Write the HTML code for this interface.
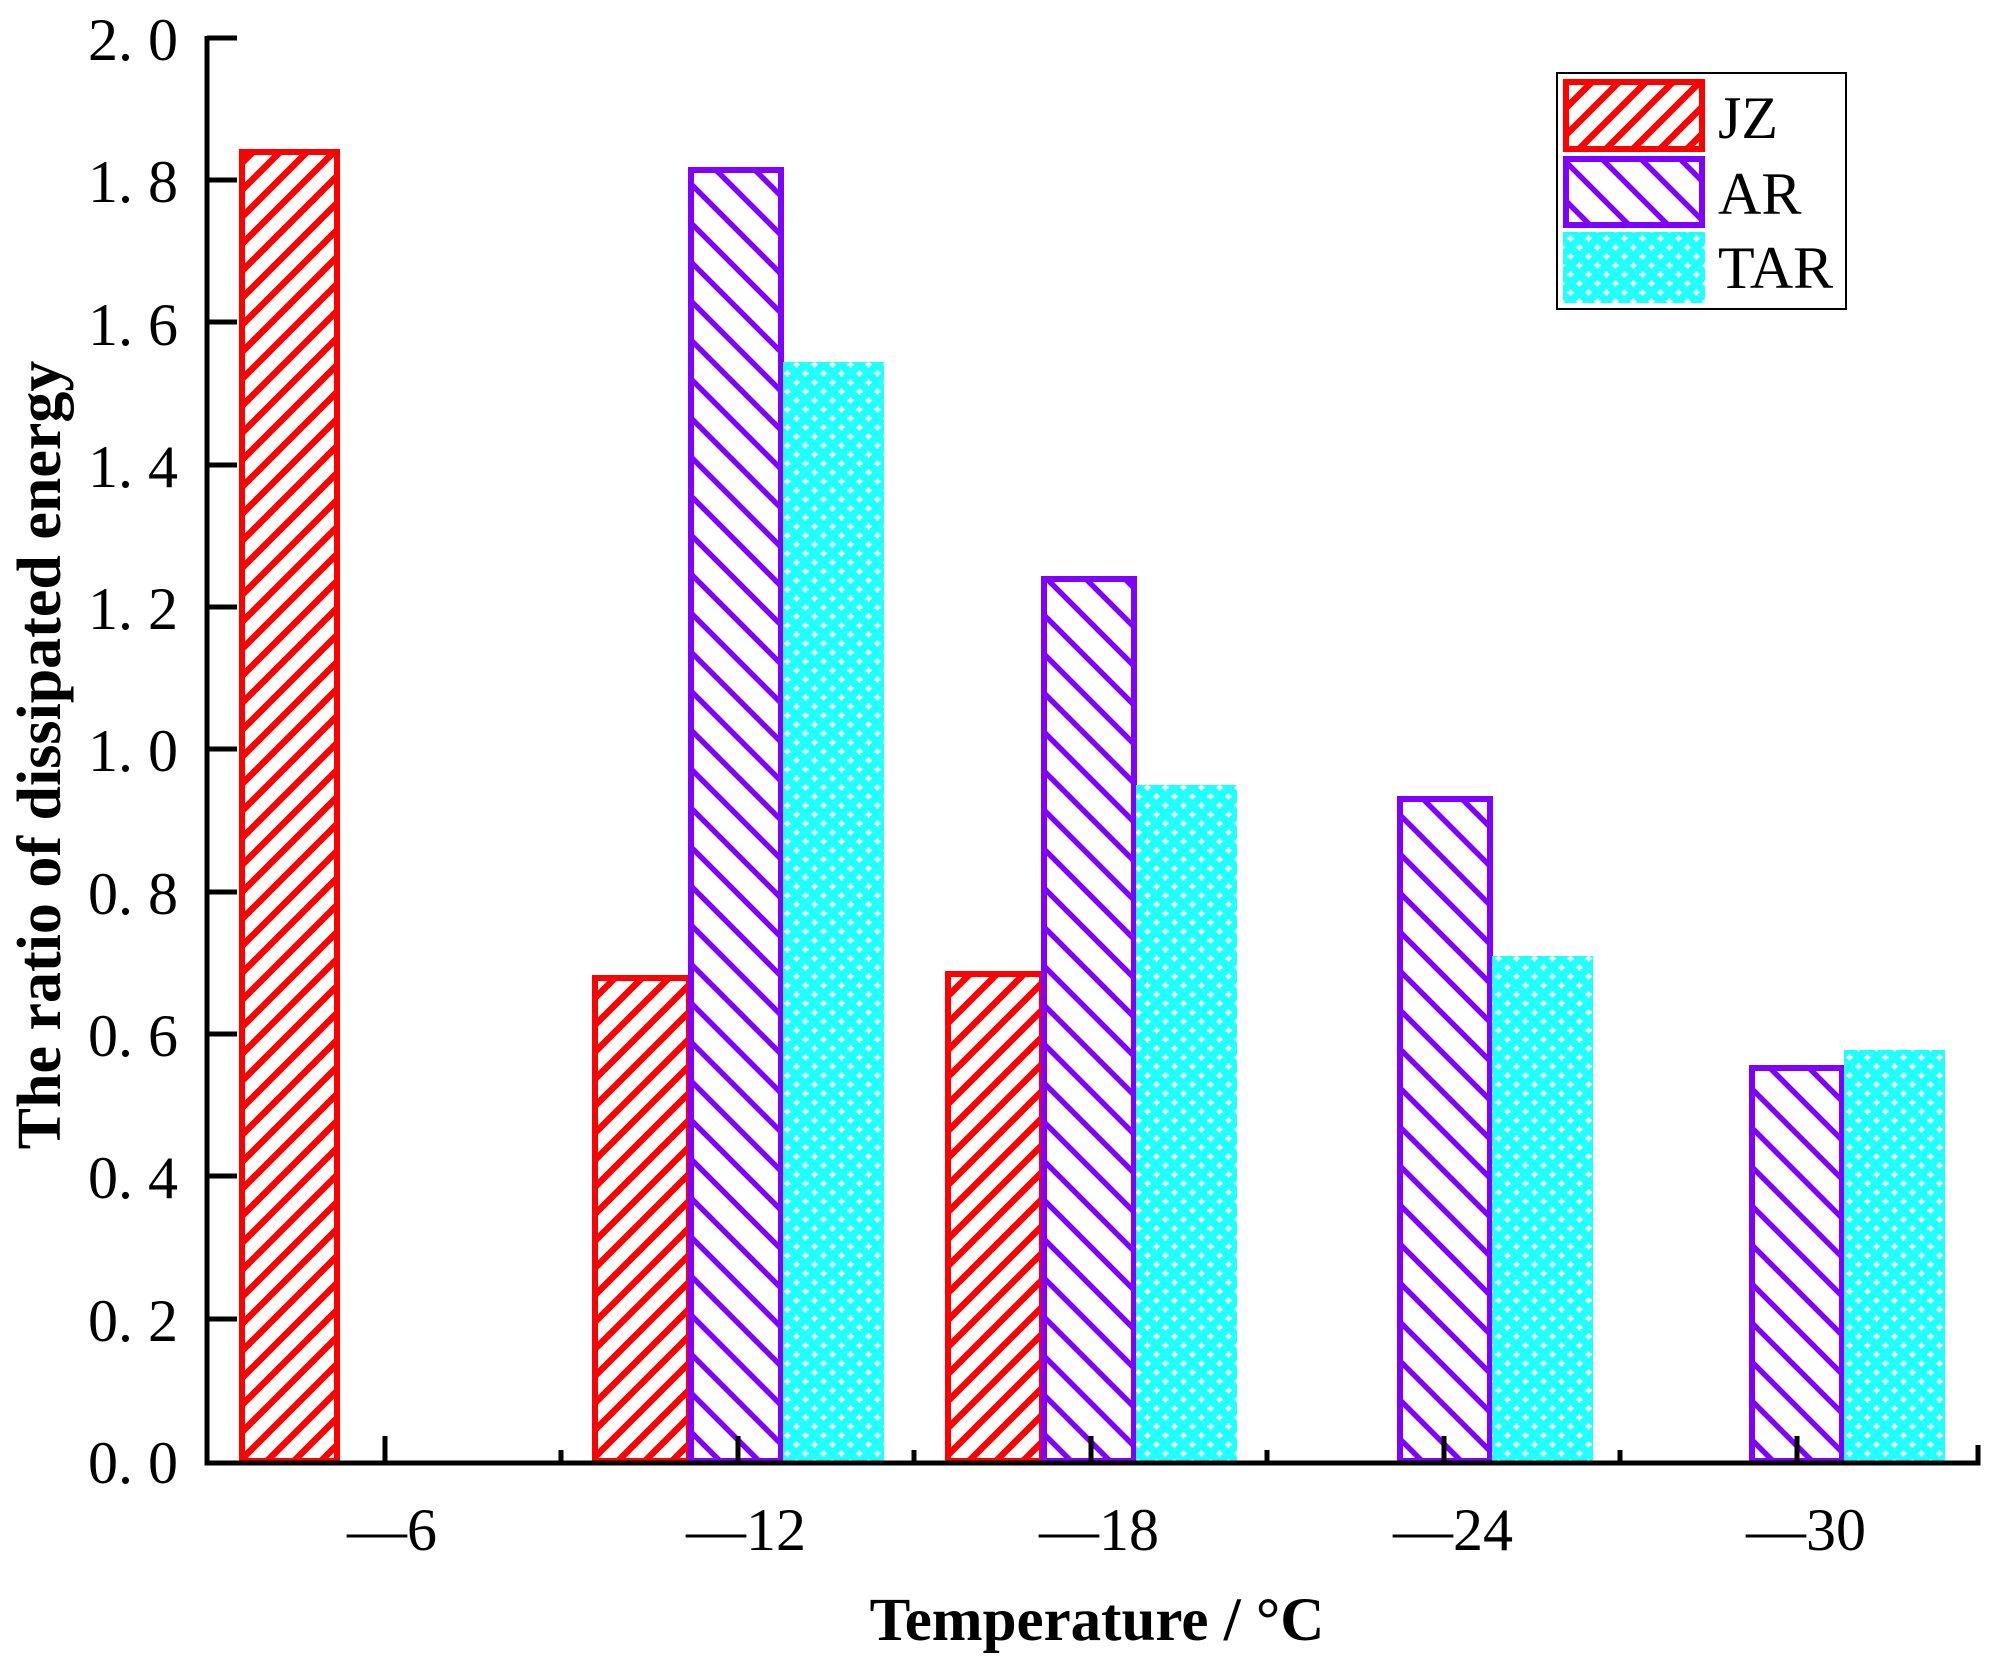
<!DOCTYPE html>
<html><head><meta charset="utf-8"><style>
html,body{margin:0;padding:0;background:#fff;}
svg{display:block;}
</style></head><body>
<svg width="1997" height="1665" viewBox="0 0 1997 1665" xmlns="http://www.w3.org/2000/svg">
<defs>
<pattern id="jz" patternUnits="userSpaceOnUse" width="27" height="27">
<rect width="27" height="27" fill="#fff"/>
<path d="M-7,34 L34,-7 M-7,7 L7,-7 M20,34 L34,20" stroke="#ff0000" stroke-width="6.5"/>
</pattern>
<pattern id="ar" patternUnits="userSpaceOnUse" width="39" height="39">
<rect width="39" height="39" fill="#fff"/>
<path d="M-6,-6 L45,45 M-6,33 L6,45 M33,-6 L45,6" stroke="#8000ff" stroke-width="5.5"/>
</pattern>
<pattern id="tar" patternUnits="userSpaceOnUse" width="18" height="18">
<rect width="18" height="18" fill="#22ffff"/>
<path d="M1.5,4.5 h6 M4.5,1.5 v6 M10.5,13.5 h6 M13.5,10.5 v6" stroke="#fff" stroke-width="2.2"/>
</pattern>
</defs>

<g font-family="Liberation Serif, serif" font-size="60" fill="#000" text-anchor="end">
<text x="178" y="60">2. 0</text>
<text x="178" y="202">1. 8</text>
<text x="178" y="345">1. 6</text>
<text x="178" y="487">1. 4</text>
<text x="178" y="629">1. 2</text>
<text x="178" y="771">1. 0</text>
<text x="178" y="914">0. 8</text>
<text x="178" y="1056">0. 6</text>
<text x="178" y="1198">0. 4</text>
<text x="178" y="1341">0. 2</text>
<text x="178" y="1483">0. 0</text>
</g>

<g stroke-width="6">
<rect x="242" y="152" width="95" height="1309" fill="url(#jz)" stroke="#ff0000"/>
<rect x="595" y="978" width="94" height="483" fill="url(#jz)" stroke="#ff0000"/>
<rect x="948" y="974" width="94" height="487" fill="url(#jz)" stroke="#ff0000"/>

<rect x="691" y="170" width="90" height="1291" fill="url(#ar)" stroke="#8000ff"/>
<rect x="1044" y="579" width="90" height="882" fill="url(#ar)" stroke="#8000ff"/>
<rect x="1400" y="799" width="90" height="662" fill="url(#ar)" stroke="#8000ff"/>
<rect x="1752" y="1068" width="90" height="393" fill="url(#ar)" stroke="#8000ff"/>

<rect x="783" y="362" width="101" height="1099" fill="url(#tar)"/>
<rect x="1136" y="785" width="101" height="676" fill="url(#tar)"/>
<rect x="1492" y="956" width="101" height="505" fill="url(#tar)"/>
<rect x="1844" y="1050" width="101" height="411" fill="url(#tar)"/>
</g>

<g stroke="#000" stroke-width="5" fill="none">
<path d="M207,36 V1463 H1978 V1445"/>
<path d="M207,38 h30 M207,180 h30 M207,322 h30 M207,465 h30 M207,607 h30 M207,749 h30 M207,892 h30 M207,1034 h30 M207,1176 h30 M207,1319 h30"/>
<path d="M385,1463 v-27 M738,1463 v-27 M1091,1463 v-27 M1444,1463 v-27 M1797,1463 v-27"/>
<path d="M561,1463 v-13 M914,1463 v-13 M1267,1463 v-13 M1620,1463 v-13"/>
</g>

<g font-family="Liberation Serif, serif" font-size="60" fill="#000" text-anchor="middle">
<text x="392" y="1550">—6</text>
<text x="746" y="1550">—12</text>
<text x="1099" y="1550">—18</text>
<text x="1453" y="1550">—24</text>
<text x="1806" y="1550">—30</text>
</g>

<text x="1097" y="1640" font-family="Liberation Serif, serif" font-size="61" font-weight="bold" text-anchor="middle">Temperature / °C</text>
<text transform="translate(60,755) rotate(-90)" font-family="Liberation Serif, serif" font-size="62" font-weight="bold" text-anchor="middle">The ratio of dissipated energy</text>

<rect x="1557" y="73" width="289" height="236" fill="#fff" stroke="#000" stroke-width="2"/>
<rect x="1566" y="82" width="136" height="67" fill="url(#jz)" stroke="#ff0000" stroke-width="6"/>
<rect x="1566" y="159" width="136" height="66" fill="url(#ar)" stroke="#8000ff" stroke-width="6"/>
<rect x="1563" y="232" width="142" height="71" fill="url(#tar)"/>
<g font-family="Liberation Serif, serif" font-size="60" fill="#000">
<text x="1718" y="138">JZ</text>
<text x="1718" y="214">AR</text>
<text x="1718" y="288">TAR</text>
</g>
</svg>
</body></html>
